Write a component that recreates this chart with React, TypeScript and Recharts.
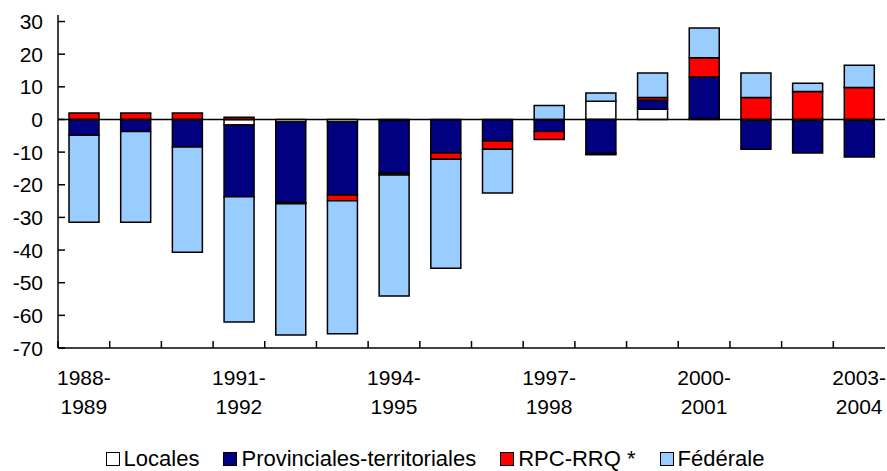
import { BarChart, Bar, XAxis, YAxis, ReferenceLine, Legend } from 'recharts';

const categories = [
  '1988-1989', '1989-1990', '1990-1991', '1991-1992', '1992-1993', '1993-1994', '1994-1995', '1995-1996',
  '1996-1997', '1997-1998', '1998-1999', '1999-2000', '2000-2001', '2001-2002', '2002-2003', '2003-2004',
];
const locales = [0, 0, 0, -1.7, -0.8, -0.8, -0.3, 0, 0, -0.2, 5.6, 3.1, 0.3, -0.3, -0.3, -0.3];
const provinciales = [-4.8, -3.7, -8.4, -22.0, -24.6, -22.3, -16.2, -10.3, -6.6, -3.5, -10.4, 2.8, 12.7, -8.8, -10.0, -11.2];
const rpc = [2.0, 2.0, 2.0, 0.7, -0.4, -1.8, -0.5, -1.9, -2.5, -2.4, -0.4, 0.8, 5.9, 6.7, 8.6, 9.8];
const federale = [-26.7, -27.8, -32.3, -38.3, -40.2, -40.7, -37.1, -33.4, -13.4, 4.3, 2.5, 7.5, 9.1, 7.5, 2.5, 6.8];
const yTicks = [30, 20, 10, 0, -10, -20, -30, -40, -50, -60, -70];

const series = [
  { key: 'locales', name: 'Locales', color: '#FFFFFF' },
  { key: 'provinciales', name: 'Provinciales-territoriales', color: '#000080' },
  { key: 'rpc', name: 'RPC-RRQ *', color: '#FF0000' },
  { key: 'federale', name: 'Fédérale', color: '#99CCFF' },
];

const data = categories.map((name, i) => ({
  name,
  locales: locales[i],
  provinciales: provinciales[i],
  rpc: rpc[i],
  federale: federale[i],
}));

const FONT = '"Liberation Sans", Arial, sans-serif';
const W = 887;
const H = 471;
const LEFT = 58;
const RIGHT = 2;
const BAND = (W - LEFT - RIGHT) / categories.length;

function XTick({ x, y, payload, index }: any) {
  const parts = String(payload.value).split('-');
  return (
    <g>
      <line x1={x - BAND / 2} x2={x - BAND / 2} y1={y} y2={y - 7} stroke="#000" strokeWidth={1.5} />
      {index % 3 === 0 && (
        <text x={x} y={y} textAnchor="middle" fontSize={21} fontFamily={FONT} fill="#000">
          <tspan x={x} dy={37}>{parts[0]}-</tspan>
          <tspan x={x} dy={29}>{parts[1]}</tspan>
        </text>
      )}
    </g>
  );
}

function YTick({ x, y, payload }: any) {
  return (
    <g>
      <line x1={x} x2={x + 7} y1={y} y2={y} stroke="#000" strokeWidth={1.5} />
      <text x={x - 15} y={y} dy={7.5} textAnchor="end" fontSize={21} fontFamily={FONT} fill="#000">
        {payload.value}
      </text>
    </g>
  );
}

function LegendBox() {
  return (
    <div
      style={{
        height: 40,
        display: 'flex',
        justifyContent: 'center',
        alignItems: 'flex-end',
        paddingRight: 15,
        fontFamily: FONT,
        fontSize: 22,
        color: '#000',
        lineHeight: '24px',
      }}
    >
      {series.map((s) => (
        <div key={s.key} style={{ display: 'flex', alignItems: 'center', margin: '0 12px' }}>
          <span
            style={{
              display: 'inline-block',
              width: 12,
              height: 12,
              background: s.color,
              border: '1px solid #000',
              marginRight: 4,
            }}
          />
          <span>{s.name}</span>
        </div>
      ))}
    </div>
  );
}

export default function App() {
  return (
    <div style={{ position: 'absolute', left: 0, top: 0, background: '#fff' }}>
      <BarChart
        width={W}
        height={H}
        data={data}
        stackOffset="sign"
        barSize={30}
        margin={{ top: 15, right: RIGHT, left: 0, bottom: 0 }}
      >
        <XAxis
          dataKey="name"
          interval={0}
          tick={<XTick />}
          tickLine={false}
          tickSize={0}
          tickMargin={0}
          height={83}
          axisLine={{ stroke: '#000', strokeWidth: 1.5 }}
        />
        <XAxis
          xAxisId="top"
          orientation="top"
          height={0}
          tick={false}
          tickLine={false}
          axisLine={{ stroke: '#333', strokeWidth: 1.5 }}
        />
        <YAxis
          domain={[-70, 32]}
          ticks={yTicks}
          interval={0}
          allowDataOverflow
          tick={<YTick />}
          tickLine={false}
          tickSize={0}
          tickMargin={0}
          width={LEFT}
          axisLine={{ stroke: '#000', strokeWidth: 1.5 }}
        />
        <YAxis
          yAxisId="right"
          orientation="right"
          width={0}
          tick={false}
          tickLine={false}
          axisLine={{ stroke: '#333', strokeWidth: 1.5 }}
        />
        {series.map((s) => (
          <Bar
            key={s.key}
            dataKey={s.key}
            name={s.name}
            stackId="a"
            fill={s.color}
            stroke="#000"
            strokeWidth={1.5}
            isAnimationActive={false}
          />
        ))}
        <ReferenceLine y={0} stroke="#000" strokeWidth={1.5} />
        <Legend verticalAlign="bottom" content={<LegendBox />} />
      </BarChart>
    </div>
  );
}
